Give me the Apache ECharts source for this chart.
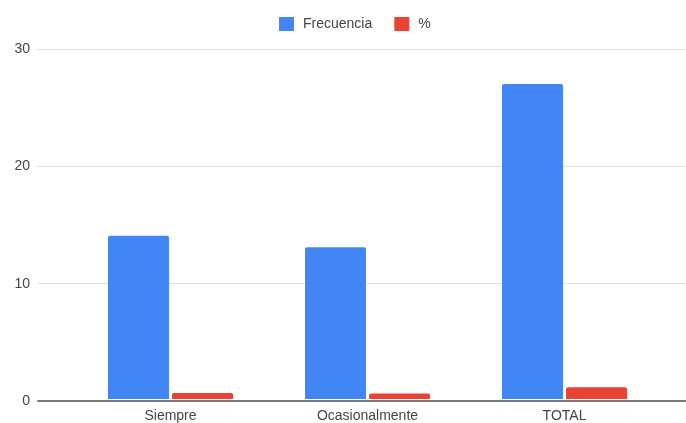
<!DOCTYPE html>
<html>
<head>
<meta charset="utf-8">
<script src="https://cdn.jsdelivr.net/npm/echarts@6/dist/echarts.min.js"></script>
<style>
  html, body { margin: 0; padding: 0; background: #ffffff; }
  #chart { width: 686px; height: 423px; }
</style>
</head>
<body>
<div id="chart"></div>
<script>
// Categories and series values
const categories = ['Siempre', 'Ocasionalmente', 'TOTAL'];
const frecuencia = [14, 13, 27];
const porcentaje = [0.52, 0.48, 1];
const yTicks = [0, 10, 20, 30];

const textColor = '#444444';
const fontFamily = 'Liberation Sans, Arial, sans-serif';

const chart = echarts.init(document.getElementById('chart'), null, { renderer: 'canvas' });

chart.setOption({
  backgroundColor: '#ffffff',
  animation: false,
  legend: {
    top: 12,
    left: 274,
    itemWidth: 15,
    itemHeight: 14,
    itemGap: 22,
    icon: 'rect',
    textStyle: { color: textColor, fontSize: 14, fontFamily: fontFamily, padding: [0, 0, 0, 4] },
    data: ['Frecuencia', '%']
  },
  grid: [
    // full-width grid: value axis labels, gridlines and baseline
    { left: 38, right: 0, top: 49, bottom: 22 },
    // bar area
    { left: 72, right: 23, top: 49, bottom: 22 }
  ],
  xAxis: [
    {
      gridIndex: 0, type: 'value', min: 0, max: 1,
      axisLine: { show: true, onZero: false, lineStyle: { color: '#7a7a7a', width: 2 } },
      axisTick: { show: false }, axisLabel: { show: false }, splitLine: { show: false }
    },
    {
      gridIndex: 1, type: 'category', data: categories,
      axisLine: { show: false }, axisTick: { show: false },
      axisLabel: { color: textColor, fontSize: 14, fontFamily: fontFamily, margin: 10 }
    }
  ],
  yAxis: [
    {
      gridIndex: 0, type: 'value', min: yTicks[0], max: yTicks[yTicks.length - 1], interval: 10,
      axisLine: { show: false }, axisTick: { show: false },
      axisLabel: { color: textColor, fontSize: 14, fontFamily: fontFamily, margin: 8 },
      splitLine: { lineStyle: { color: '#e0e0e0', width: 1 } }
    },
    {
      gridIndex: 1, type: 'value', min: yTicks[0], max: yTicks[yTicks.length - 1], interval: 10,
      axisLine: { show: false }, axisTick: { show: false },
      axisLabel: { show: false }, splitLine: { show: false }
    }
  ],
  series: [
    {
      name: 'Frecuencia', type: 'bar', xAxisIndex: 1, yAxisIndex: 1,
      data: frecuencia, barWidth: 61, barGap: '5%',
      itemStyle: { color: '#4285f4', borderRadius: [2, 2, 0, 0] }
    },
    {
      name: '%', type: 'bar', xAxisIndex: 1, yAxisIndex: 1,
      data: porcentaje, barWidth: 61,
      itemStyle: { color: '#ea4335', borderRadius: [2, 2, 0, 0] }
    }
  ]
});
</script>
</body>
</html>
